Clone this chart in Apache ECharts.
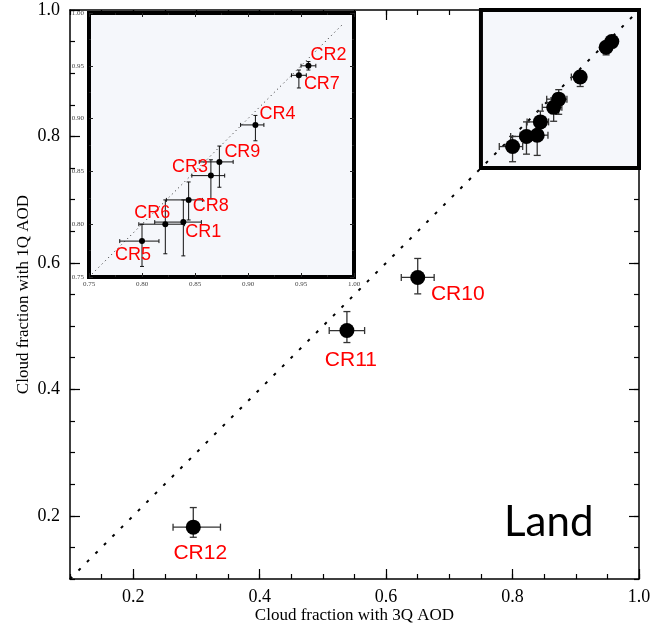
<!DOCTYPE html>
<html>
<head>
<meta charset="utf-8">
<script src="https://cdn.jsdelivr.net/npm/echarts@6/dist/echarts.min.js"></script>
<style>
  html, body { margin: 0; padding: 0; background: #fff; }
  #main { width: 657px; height: 628px; }
</style>
</head>
<body>
<div id="main"></div>
<script>
// cloud regimes, cloud fraction with 3Q AOD (x) vs 1Q AOD (y)
var regimes = ['CR1', 'CR2', 'CR3', 'CR4', 'CR5', 'CR6', 'CR7', 'CR8', 'CR9', 'CR10', 'CR11', 'CR12'];
var cf3Q = [0.839, 0.957, 0.865, 0.907, 0.800, 0.822, 0.948, 0.844, 0.873, 0.650, 0.538, 0.295];
var cf1Q = [0.802, 0.950, 0.846, 0.894, 0.784, 0.800, 0.941, 0.823, 0.859, 0.577, 0.493, 0.182];
// error bars (minus / plus)
var xErrMinus = [0.027, 0.007, 0.018, 0.014, 0.021, 0.025, 0.007, 0.021, 0.019, 0.026, 0.028, 0.032];
var xErrPlus  = [0.017, 0.007, 0.013, 0.008, 0.016, 0.018, 0.007, 0.013, 0.013, 0.026, 0.028, 0.043];
var yErrMinus = [0.032, 0.004, 0.022, 0.015, 0.024, 0.028, 0.012, 0.019, 0.024, 0.026, 0.019, 0.016];
var yErrPlus  = [0.021, 0.004, 0.015, 0.009, 0.016, 0.023, 0.005, 0.017, 0.015, 0.030, 0.030, 0.031];

var insetRegimes = ['CR1', 'CR2', 'CR3', 'CR4', 'CR5', 'CR6', 'CR7', 'CR8', 'CR9'];
var mainLabelled = ['CR10', 'CR11', 'CR12'];
var mainTicks = [0.2, 0.4, 0.6, 0.8, 1.0];

// where the red names sit, relative to their point (px)
var labelOffset = {
  CR1: [20, 10], CR2: [20, -11], CR3: [-21, -9], CR4: [22, -11], CR5: [-9, 14],
  CR6: [-13, -11], CR7: [23, 9], CR8: [22, 6], CR9: [23, -10],
  CR10: [40, 17], CR11: [4, 30], CR12: [7, 26]
};

var SERIF = 'Liberation Serif';
var SANS = 'Liberation Sans';

function idx(name) { return regimes.indexOf(name); }

function barRows(names) {
  return names.map(function (n) {
    var i = idx(n);
    return [cf3Q[i], cf1Q[i], cf3Q[i] - xErrMinus[i], cf3Q[i] + xErrPlus[i],
            cf1Q[i] - yErrMinus[i], cf1Q[i] + yErrPlus[i]];
  });
}

function pointRows(names, labelled, size) {
  return names.map(function (n) {
    var i = idx(n);
    var show = labelled.indexOf(n) >= 0;
    return {
      name: n,
      value: [cf3Q[i], cf1Q[i]],
      label: { show: show, offset: labelOffset[n], fontSize: size }
    };
  });
}

function errorBars(cap, color, width) {
  return function (params, api) {
    var x = api.value(0), y = api.value(1);
    var c = api.coord([x, y]);
    var l = api.coord([api.value(2), y]);
    var r = api.coord([api.value(3), y]);
    var b = api.coord([x, api.value(4)]);
    var t = api.coord([x, api.value(5)]);
    var st = { stroke: color, lineWidth: width };
    function seg(x1, y1, x2, y2) {
      return { type: 'line', shape: { x1: x1, y1: y1, x2: x2, y2: y2 }, style: st };
    }
    return {
      type: 'group',
      children: [
        seg(l[0], c[1], r[0], c[1]),
        seg(l[0], c[1] - cap, l[0], c[1] + cap),
        seg(r[0], c[1] - cap, r[0], c[1] + cap),
        seg(c[0], b[1], c[0], t[1]),
        seg(c[0] - cap, b[1], c[0] + cap, b[1]),
        seg(c[0] - cap, t[1], c[0] + cap, t[1])
      ]
    };
  };
}

// main frame axes: one with line + short ticks, one with the long ticks
function mainAxis(pos, grid, withLabel, longTicks) {
  var a = {
    type: 'value', gridIndex: grid, position: pos,
    min: 0.1, max: 1.0, interval: 0.05,
    splitLine: { show: false },
    axisLine: { show: !longTicks, onZero: false, lineStyle: { color: '#000', width: 1.5 } },
    axisTick: { show: true, inside: true, length: longTicks ? 10 : 5, lineStyle: { color: '#000', width: 1.2 } },
    axisLabel: { show: false }
  };
  if (longTicks) a.axisTick.customValues = mainTicks;
  if (withLabel) {
    a.axisLabel = {
      show: true, customValues: mainTicks, margin: pos === 'left' ? 10 : 9,
      fontFamily: SERIF, fontSize: 18, color: '#000',
      formatter: function (v) { return v.toFixed(1); }
    };
  }
  return a;
}

function insetAxis(pos, withLabel) {
  return {
    type: 'value', gridIndex: 1, position: pos, z: 6,
    min: 0.75, max: 1.0, interval: 0.05,
    splitLine: { show: false },
    axisLine: { show: false, onZero: false },
    axisTick: { show: true, inside: true, length: 4, lineStyle: { color: '#222', width: 1 } },
    minorTick: { show: true, splitNumber: 2, length: 2, lineStyle: { color: '#222', width: 1 } },
    axisLabel: {
      show: withLabel, margin: pos === 'left' ? 5 : 4,
      fontFamily: SERIF, fontSize: 7, color: '#444',
      formatter: function (v) { return v.toFixed(2); }
    }
  };
}

var xMain = mainAxis('bottom', 0, true, false);
xMain.name = 'Cloud fraction with 3Q AOD';
xMain.nameLocation = 'middle';
xMain.nameGap = 28;
xMain.nameMoveOverlap = false;
xMain.nameTextStyle = { fontFamily: SERIF, fontSize: 17, color: '#000' };

var yMain = mainAxis('left', 0, true, false);
yMain.name = 'Cloud fraction with 1Q AOD';
yMain.nameLocation = 'middle';
yMain.nameGap = 38;
yMain.nameMoveOverlap = false;
yMain.nameTextStyle = { fontFamily: SERIF, fontSize: 17, color: '#000' };

var redLabel = {
  position: 'inside', formatter: '{b}', color: '#ff0000', fontFamily: SANS,
  align: 'center', verticalAlign: 'middle',
  textBorderWidth: 0, textBorderColor: 'transparent', opacity: 1
};

var chart = echarts.init(document.getElementById('main'));

var option = {
  backgroundColor: '#fff',
  animation: false,
  grid: [
    { left: 70, top: 10, width: 569, height: 569, outerBoundsMode: 'none' },
    { left: 89, top: 13, width: 265, height: 264, outerBoundsMode: 'none',
      show: true, z: 5, backgroundColor: '#f5f7fb', borderColor: '#000', borderWidth: 4 }
  ],
  xAxis: [
    xMain,
    mainAxis('top', 0, false, false),
    mainAxis('bottom', 0, false, true),
    mainAxis('top', 0, false, true),
    insetAxis('bottom', true),
    insetAxis('top', false)
  ],
  yAxis: [
    yMain,
    mainAxis('right', 0, false, false),
    mainAxis('left', 0, false, true),
    mainAxis('right', 0, false, true),
    insetAxis('left', true),
    insetAxis('right', false)
  ],
  graphic: [{
    type: 'text', left: 504, top: 501, z: 10,
    style: { text: 'Land', fontFamily: 'Lato', fontSize: 42, fill: '#000' }
  }],
  series: [
    // zoomed region box in the main plot
    {
      type: 'line', xAxisIndex: 0, yAxisIndex: 0, z: -1, data: [],
      markArea: {
        silent: true,
        itemStyle: { color: '#f5f7fb', borderColor: '#000', borderWidth: 4 },
        data: [[{ coord: [0.75, 0.75] }, { coord: [1.0, 1.0] }]]
      }
    },
    {
      type: 'line', xAxisIndex: 0, yAxisIndex: 0, z: 2, symbol: 'none',
      data: [[0.1, 0.1], [1.0, 1.0]],
      lineStyle: { color: '#000', width: 2, type: [3, 9] }
    },
    {
      type: 'custom', xAxisIndex: 0, yAxisIndex: 0, z: 3,
      renderItem: errorBars(3.5, '#333', 1.3),
      encode: { x: [0, 2, 3], y: [1, 4, 5] },
      data: barRows(regimes)
    },
    {
      type: 'scatter', xAxisIndex: 0, yAxisIndex: 0, z: 4,
      symbolSize: 15, itemStyle: { color: '#000', opacity: 1 },
      label: redLabel,
      data: pointRows(regimes, mainLabelled, 21)
    },
    // inset
    {
      type: 'line', xAxisIndex: 4, yAxisIndex: 4, z: 7, symbol: 'none',
      data: [[0.75, 0.75], [0.99, 0.99]],
      lineStyle: { color: '#222', width: 1, type: [1, 3.5] }
    },
    {
      type: 'custom', xAxisIndex: 4, yAxisIndex: 4, z: 8,
      renderItem: errorBars(2, '#111', 1),
      encode: { x: [0, 2, 3], y: [1, 4, 5] },
      data: barRows(insetRegimes)
    },
    {
      type: 'scatter', xAxisIndex: 4, yAxisIndex: 4, z: 9,
      symbolSize: 6, itemStyle: { color: '#000', opacity: 1 },
      label: redLabel,
      data: pointRows(insetRegimes, insetRegimes, 18)
    }
  ]
};

chart.setOption(option);
</script>
</body>
</html>
